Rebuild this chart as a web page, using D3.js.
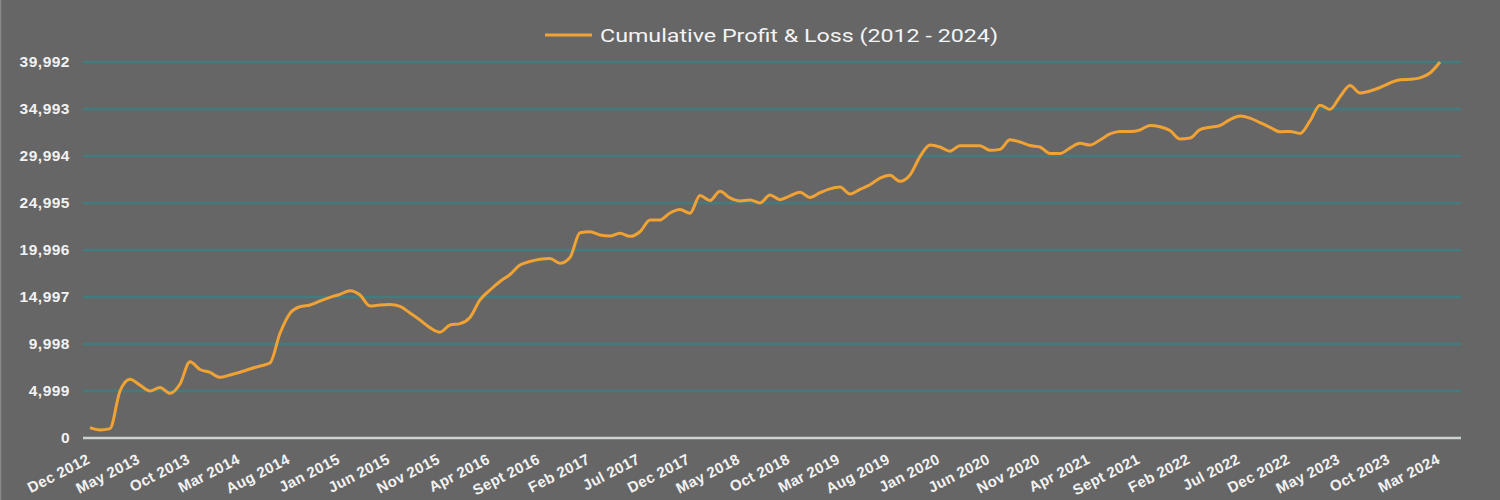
<!DOCTYPE html>
<html>
<head>
<meta charset="utf-8">
<script src="https://cdn.jsdelivr.net/npm/d3@7"></script>
<style>
  html, body { margin: 0; padding: 0; background: #666666; }
  svg { display: block; font-family: Roboto, "Noto Sans", sans-serif; }
</style>
</head>
<body>
<div id="chart"></div>
<script>
// Valeurs mensuelles (Dec 2012 -> Mar 2024)
const seriesName = "Cumulative Profit & Loss (2012 - 2024)";
const pnl = [
  1100, 850, 1000, 4999, 6250, 5620, 5000, 5380, 4750, 5740,
  8115, 7285, 6970, 6455, 6700, 6990, 7340, 7660, 7980, 11135,
  13263, 13965, 14146, 14570, 14965, 15284, 15667, 15210, 14040, 14146,
  14190, 13990, 13300, 12550, 11740, 11250, 12020, 12170, 12820, 14680,
  15740, 16645, 17390, 18400, 18770, 19020, 19100, 18580, 19200, 21836,
  21930, 21590, 21485, 21780, 21450, 21940, 23190, 23190, 23930, 24300,
  23900, 25800, 25250, 26250, 25530, 25210, 25310, 25000, 25850, 25350,
  25760, 26150, 25580, 26090, 26500, 26700, 25950, 26450, 26940, 27650,
  27950, 27300, 27970, 29920, 31160, 30950, 30500, 31090, 31090, 31090,
  30600, 30700, 31720, 31480, 31110, 30950, 30250, 30250, 30840, 31340,
  31160, 31700, 32340, 32610, 32590, 32760, 33250, 33110, 32700, 31800,
  31900, 32810, 33050, 33240, 33860, 34250, 34030, 33540, 33050, 32570,
  32610, 32400, 33720, 35400, 34950, 36300, 37490, 36700, 36900, 37280,
  37760, 38100, 38150, 38310, 38820, 39992
];
const monthLabels = [
  "Dec 2012", "May 2013", "Oct 2013", "Mar 2014", "Aug 2014", "Jan 2015",
  "Jun 2015", "Nov 2015", "Apr 2016", "Sept 2016", "Feb 2017", "Jul 2017",
  "Dec 2017", "May 2018", "Oct 2018", "Mar 2019", "Aug 2019", "Jan 2020",
  "Jun 2020", "Nov 2020", "Apr 2021", "Sept 2021", "Feb 2022", "Jul 2022",
  "Dec 2022", "May 2023", "Oct 2023", "Mar 2024"
];
const labelStep = 5; // une étiquette tous les 5 mois
const yTicks = [0, 4999, 9998, 14997, 19996, 24995, 29994, 34993, 39992];

// Dimensions
const W = 1500, H = 500;
const plotLeft = 83, plotRight = 1461;
const y0 = 438, yTop = 62;

const svg = d3.select("#chart")
  .append("svg")
  .attr("width", W)
  .attr("height", H);

svg.append("rect")
  .attr("width", W)
  .attr("height", H)
  .attr("fill", "#666666");

// bord gauche clair
svg.append("line")
  .attr("x1", 0.5).attr("x2", 0.5)
  .attr("y1", 0).attr("y2", H)
  .attr("stroke", "#8a8a8a")
  .attr("stroke-width", 1.5);

// Échelles
const x = d3.scaleLinear()
  .domain([0, pnl.length - 1])
  .range([90, 1440]);

const y = d3.scaleLinear()
  .domain([0, 39992])
  .range([y0, yTop]);

// Grille horizontale
svg.append("g")
  .selectAll("line")
  .data(yTicks.slice(1))
  .join("line")
  .attr("x1", plotLeft)
  .attr("x2", plotRight)
  .attr("y1", d => y(d))
  .attr("y2", d => y(d))
  .attr("stroke", "#427b80")
  .attr("stroke-width", 2.5);

// Axe Y
const yAxis = svg.append("g")
  .attr("transform", `translate(${plotLeft},0)`)
  .call(d3.axisLeft(y).tickValues(yTicks).tickFormat(d3.format(",")).tickSize(0).tickPadding(13))
  .call(g => g.select(".domain").remove());
yAxis.selectAll("text")
  .attr("fill", "#f2f2f2")
  .style("font-size", "15.5px")
  .style("font-weight", "bold")
  .style("letter-spacing", "0.5px");

// Ligne de base
svg.append("line")
  .attr("x1", plotLeft)
  .attr("x2", plotRight)
  .attr("y1", y0)
  .attr("y2", y0)
  .attr("stroke", "#c9d3d3")
  .attr("stroke-width", 2.5);

// Axe X
const tickIdx = monthLabels.map((d, i) => i * labelStep);
const xAxis = svg.append("g")
  .attr("transform", `translate(0,${y0})`)
  .call(d3.axisBottom(x).tickValues(tickIdx).tickFormat((d, i) => monthLabels[i]).tickSize(0))
  .call(g => g.select(".domain").remove());
xAxis.selectAll("text")
  .attr("fill", "#f2f2f2")
  .style("font-size", "15px")
  .style("font-weight", "bold")
  .style("letter-spacing", "0.3px")
  .attr("text-anchor", "end")
  .attr("x", 0)
  .attr("y", 0)
  .attr("dy", "0.35em")
  .attr("transform", "translate(-2,20) rotate(-27)");

// Courbe
const line = d3.line()
  .x((d, i) => x(i))
  .y(d => y(d))
  .curve(d3.curveMonotoneX);

svg.append("path")
  .datum(pnl)
  .attr("fill", "none")
  .attr("stroke", "#f0a234")
  .attr("stroke-width", 3)
  .attr("stroke-linejoin", "round")
  .attr("d", line);

// Légende
const legend = svg.append("g");
legend.append("line")
  .attr("x1", 545).attr("x2", 592)
  .attr("y1", 35).attr("y2", 35)
  .attr("stroke", "#f0a234")
  .attr("stroke-width", 3);
legend.append("text")
  .attr("x", 600)
  .attr("y", 35)
  .attr("dy", "0.35em")
  .attr("fill", "#f4f4f4")
  .attr("textLength", 398)
  .attr("lengthAdjust", "spacingAndGlyphs")
  .style("font-size", "19px")
  .style("font-weight", "normal")
  .text(seriesName);
</script>
</body>
</html>
